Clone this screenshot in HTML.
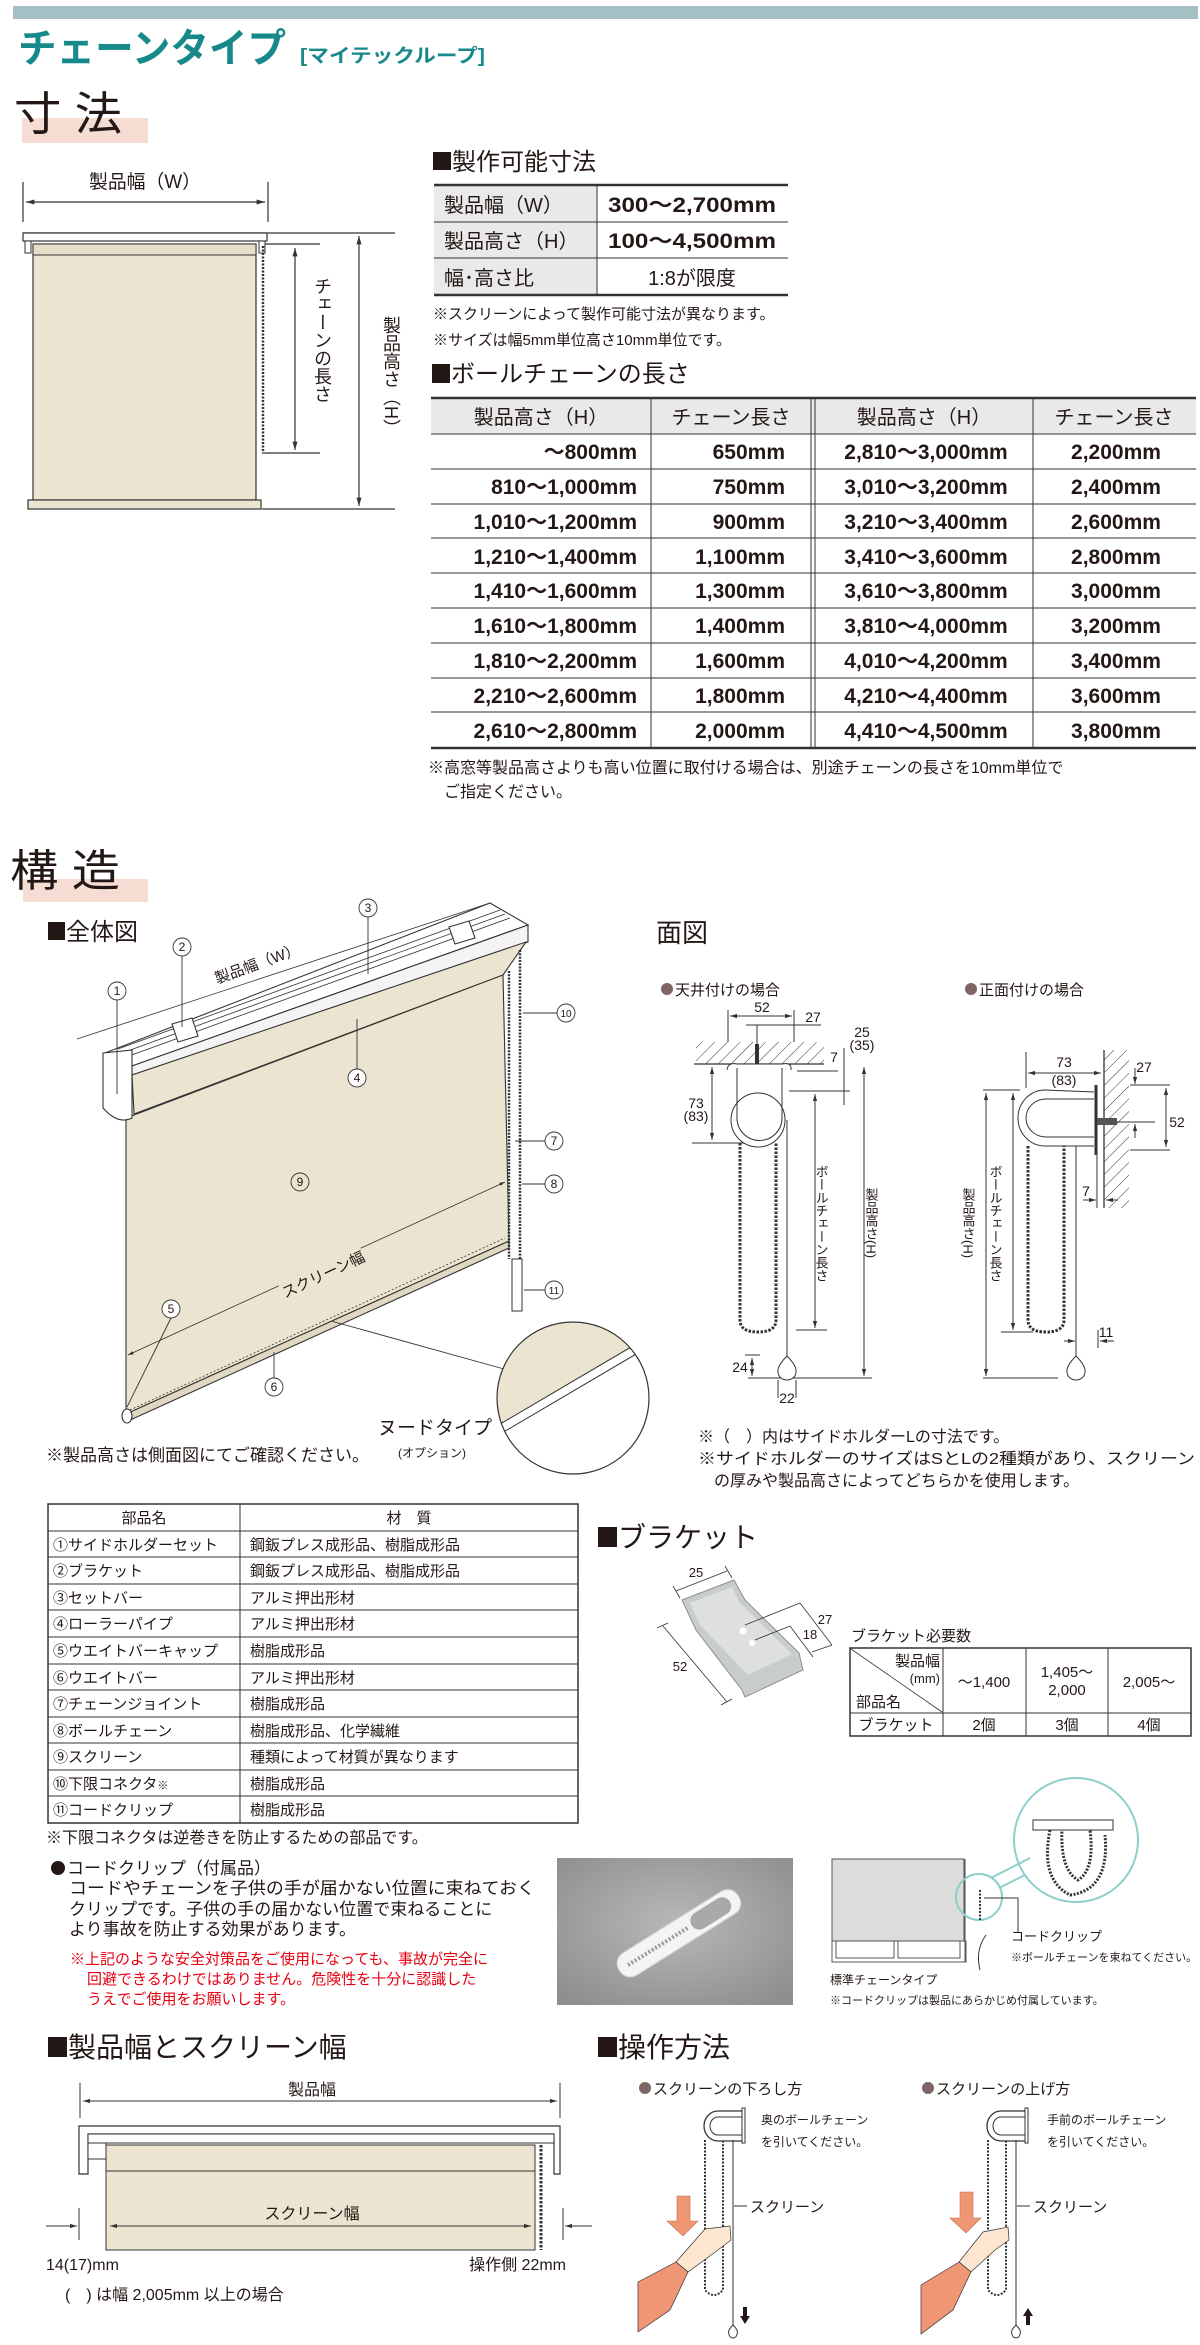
<!DOCTYPE html>
<html><head><meta charset="utf-8"><style>
html,body{margin:0;padding:0;background:#fff;}
svg{display:block;}
text{font-family:"Liberation Sans","Noto Sans CJK JP",sans-serif;fill:#231815;}
.v{writing-mode:vertical-rl;}
</style></head><body>
<svg width="1200" height="2345" viewBox="0 0 1200 2345" xmlns="http://www.w3.org/2000/svg">
<defs>
<radialGradient id="ph" cx="0.5" cy="0.45" r="0.7"><stop offset="0" stop-color="#b9b8b6"/><stop offset="1" stop-color="#8e8d8b"/></radialGradient>
<pattern id="hatch" width="9" height="9" patternUnits="userSpaceOnUse" patternTransform="rotate(45)"><line x1="0" y1="0" x2="0" y2="9" stroke="#333" stroke-width="1"/></pattern>
<marker id="ah" viewBox="0 0 10 10" refX="10" refY="5" markerWidth="7" markerHeight="7" orient="auto-start-reverse"><path d="M0,2 L10,5 L0,8 z" fill="#333"/></marker>
</defs>

<!-- top bar and title -->
<rect x="13" y="6" width="1185" height="13" fill="#a5c0c4"/>
<text x="18" y="62" font-size="40" font-weight="bold" fill="#17898b" style="fill:#17898b" textLength="268" lengthAdjust="spacingAndGlyphs">チェーンタイプ</text>
<text x="300" y="62" font-size="19" font-weight="bold" style="fill:#17898b" textLength="185" lengthAdjust="spacingAndGlyphs">[マイテックループ]</text>

<!-- 寸法 -->
<rect x="22" y="118" width="126" height="25" fill="#f6ddd4"/>
<text x="14" y="130" font-size="46" textLength="108" lengthAdjust="spacingAndGlyphs">寸 法</text>

<!-- left dimension diagram -->
<g stroke="#333" stroke-width="1.2" fill="none">
<line x1="23" y1="182" x2="23" y2="222"/><line x1="268" y1="182" x2="268" y2="222"/>
<line x1="26" y1="202" x2="265" y2="202" marker-start="url(#ah)" marker-end="url(#ah)"/>
<line x1="23" y1="233" x2="395" y2="233"/>
<line x1="262" y1="244" x2="320" y2="244"/>
<line x1="262" y1="453" x2="320" y2="453"/>
<line x1="262" y1="509" x2="395" y2="509"/>
<line x1="295" y1="248" x2="295" y2="450" marker-start="url(#ah)" marker-end="url(#ah)"/>
<line x1="359" y1="236" x2="359" y2="506" marker-start="url(#ah)" marker-end="url(#ah)"/>
</g>
<rect x="23" y="233" width="244" height="8" fill="#fff" stroke="#333" stroke-width="1.2"/>
<rect x="25" y="241" width="6" height="12" fill="#fff" stroke="#333"/>
<rect x="259" y="241" width="6" height="12" fill="#fff" stroke="#333"/>
<rect x="33" y="244" width="223" height="256" fill="#ebe4d0" stroke="#333" stroke-width="1.2"/>
<rect x="33" y="244" width="223" height="11" fill="#e6dec8" stroke="#333"/>
<rect x="28" y="500" width="233" height="9" fill="#ebe4d0" stroke="#333" stroke-width="1.2"/>
<line x1="263" y1="246" x2="263" y2="453" stroke="#333" stroke-width="2.5" stroke-dasharray="2 1.5"/>
<text x="145" y="188" font-size="19" text-anchor="middle" textLength="112" lengthAdjust="spacingAndGlyphs">製品幅（W）</text>
<text x="322" y="277" font-size="18" class="v">チェーンの長さ</text>
<text x="391" y="316" font-size="18" class="v">製品高さ（H）</text>

<!-- 製作可能寸法 -->
<rect x="433" y="152" width="18" height="18" fill="#231815"/>
<text x="452" y="170" font-size="24">製作可能寸法</text>
<rect x="434" y="185" width="163" height="110" fill="#e9e9e9"/>
<g stroke="#333">
<line x1="434" y1="185" x2="788" y2="185" stroke-width="2.5"/>
<line x1="434" y1="222" x2="788" y2="222" stroke-width="1"/>
<line x1="434" y1="258" x2="788" y2="258" stroke-width="1"/>
<line x1="434" y1="295" x2="788" y2="295" stroke-width="2.5"/>
<line x1="597" y1="185" x2="597" y2="295" stroke-width="1"/>
</g>
<text x="444" y="212" font-size="20">製品幅（W）</text>
<text x="444" y="248" font-size="20">製品高さ（H）</text>
<text x="444" y="285" font-size="20">幅･高さ比</text>
<text x="608" y="212" font-size="21" font-weight="bold" textLength="168" lengthAdjust="spacingAndGlyphs">300～2,700mm</text>
<text x="608" y="248" font-size="21" font-weight="bold" textLength="168" lengthAdjust="spacingAndGlyphs">100～4,500mm</text>
<text x="692" y="285" font-size="20" text-anchor="middle">1:8が限度</text>
<text x="433" y="319" font-size="15">※スクリーンによって製作可能寸法が異なります。</text>
<text x="433" y="345" font-size="15">※サイズは幅5mm単位高さ10mm単位です。</text>

<!-- ボールチェーンの長さ -->
<rect x="432" y="364" width="18" height="19" fill="#231815"/>
<text x="451" y="382" font-size="24">ボールチェーンの長さ</text>
<rect x="431" y="398" width="765" height="36" fill="#e9e9e9"/>
<g stroke="#333" stroke-width="1">
<line x1="431" y1="398" x2="1196" y2="398" stroke-width="2.5"/>
<line x1="431" y1="434" x2="1196" y2="434"/>
<line x1="431" y1="469" x2="1196" y2="469"/>
<line x1="431" y1="504" x2="1196" y2="504"/>
<line x1="431" y1="538" x2="1196" y2="538"/>
<line x1="431" y1="573" x2="1196" y2="573"/>
<line x1="431" y1="608" x2="1196" y2="608"/>
<line x1="431" y1="643" x2="1196" y2="643"/>
<line x1="431" y1="678" x2="1196" y2="678"/>
<line x1="431" y1="712" x2="1196" y2="712"/>
<line x1="431" y1="748" x2="1196" y2="748" stroke-width="2.5"/>
<line x1="651" y1="398" x2="651" y2="748"/>
<line x1="811" y1="398" x2="811" y2="748"/>
<line x1="815" y1="398" x2="815" y2="748"/>
<line x1="1033" y1="398" x2="1033" y2="748"/>
</g>
<g font-size="20" text-anchor="middle">
<text x="541" y="424">製品高さ（H）</text><text x="731" y="424">チェーン長さ</text>
<text x="924" y="424">製品高さ（H）</text><text x="1114" y="424">チェーン長さ</text>
</g>
<g font-size="21" font-weight="bold">
<g text-anchor="end">
<text x="637" y="459">～800mm</text><text x="637" y="494">810～1,000mm</text><text x="637" y="529">1,010～1,200mm</text>
<text x="637" y="564">1,210～1,400mm</text><text x="637" y="598">1,410～1,600mm</text><text x="637" y="633">1,610～1,800mm</text>
<text x="637" y="668">1,810～2,200mm</text><text x="637" y="703">2,210～2,600mm</text><text x="637" y="738">2,610～2,800mm</text>
<text x="785" y="459">650mm</text><text x="785" y="494">750mm</text><text x="785" y="529">900mm</text>
<text x="785" y="564">1,100mm</text><text x="785" y="598">1,300mm</text><text x="785" y="633">1,400mm</text>
<text x="785" y="668">1,600mm</text><text x="785" y="703">1,800mm</text><text x="785" y="738">2,000mm</text>
</g>
<g text-anchor="middle">
<text x="926" y="459">2,810～3,000mm</text><text x="926" y="494">3,010～3,200mm</text><text x="926" y="529">3,210～3,400mm</text>
<text x="926" y="564">3,410～3,600mm</text><text x="926" y="598">3,610～3,800mm</text><text x="926" y="633">3,810～4,000mm</text>
<text x="926" y="668">4,010～4,200mm</text><text x="926" y="703">4,210～4,400mm</text><text x="926" y="738">4,410～4,500mm</text>
<text x="1116" y="459">2,200mm</text><text x="1116" y="494">2,400mm</text><text x="1116" y="529">2,600mm</text>
<text x="1116" y="564">2,800mm</text><text x="1116" y="598">3,000mm</text><text x="1116" y="633">3,200mm</text>
<text x="1116" y="668">3,400mm</text><text x="1116" y="703">3,600mm</text><text x="1116" y="738">3,800mm</text>
</g></g>
<text x="428" y="773" font-size="16">※高窓等製品高さよりも高い位置に取付ける場合は、別途チェーンの長さを10mm単位で</text>
<text x="444" y="797" font-size="16">ご指定ください。</text>

<!-- 構造 -->
<rect x="23" y="879" width="125" height="23" fill="#f6ddd4"/>
<text x="10" y="886" font-size="44" textLength="110" lengthAdjust="spacingAndGlyphs">構 造</text>
<rect x="48" y="922" width="17" height="18" fill="#231815"/>
<text x="66" y="940" font-size="24">全体図</text>
<text x="656" y="942" font-size="26">面図</text>

<!-- 3D drawing -->
<g stroke="#333" stroke-width="1.1">
<polygon points="105,1053 490,903 528,925 132,1066" fill="#fff"/>
<polygon points="132,1066 528,925 528,942 132,1075" fill="#f4f4f4"/>
<line x1="118" y1="1049" x2="500" y2="910" stroke-width="0.8"/>
<line x1="122" y1="1053" x2="505" y2="914" stroke-width="0.8"/>
<line x1="126" y1="1057" x2="510" y2="918" stroke-width="0.8"/>
<polygon points="132,1075 526,942 503,975 134,1114" fill="#ebe4d0"/>
<polygon points="126,1118 503,975 509,1241 126,1414" fill="#ebe4d0"/>
<polygon points="126,1414 509,1241 509,1248 128,1421" fill="#e0d8c2"/>
<line x1="130" y1="1410" x2="505" y2="1238" stroke-dasharray="2 2" stroke-width="0.8"/>
<path d="M103,1053 L132,1050 L132,1118 Q118,1125 103,1108 Z" fill="#fff"/>
<ellipse cx="127" cy="1416" rx="5" ry="7" fill="#fff"/>
<polygon points="172,1024 192,1018 198,1036 178,1042" fill="#fff"/>
<polygon points="449,927 469,921 475,938 455,944" fill="#fff"/>
<line x1="77" y1="1039" x2="490" y2="903" stroke-width="0.8"/>
<line x1="128" y1="1355" x2="505" y2="1182" stroke-width="0.8" marker-start="url(#ah)" marker-end="url(#ah)"/>
</g>
<line x1="509" y1="971" x2="509" y2="1259" stroke="#333" stroke-width="2.5" stroke-dasharray="2 1.3"/>
<line x1="520" y1="950" x2="520" y2="1259" stroke="#333" stroke-width="2.5" stroke-dasharray="2 1.3"/>
<rect x="512" y="1259" width="10" height="52" fill="#fff" stroke="#333"/>
<rect x="207" y="952" width="100" height="22" fill="#fff" transform="rotate(-20 257 963)"/>
<text x="257" y="969" font-size="15" text-anchor="middle" transform="rotate(-20 257 963)">製品幅（W）</text>
<rect x="278" y="1263" width="90" height="22" fill="#ebe4d0" transform="rotate(-25 323 1274)"/>
<text x="323" y="1280" font-size="15" text-anchor="middle" transform="rotate(-25 323 1274)">スクリーン幅</text>
<g stroke="#333" stroke-width="0.9" fill="none">
<line x1="117" y1="1000" x2="117" y2="1094"/><line x1="182" y1="956" x2="182" y2="1027"/>
<line x1="368" y1="917" x2="368" y2="974"/><line x1="357" y1="1069" x2="357" y2="1019"/>
<line x1="171" y1="1318" x2="127" y2="1407"/><line x1="274" y1="1378" x2="274" y2="1352"/>
<line x1="545" y1="1141" x2="515" y2="1141"/><line x1="545" y1="1184" x2="522" y2="1184"/>
<line x1="557" y1="1013" x2="523" y2="1013"/><line x1="545" y1="1290" x2="524" y2="1290"/>
<line x1="331" y1="1321" x2="504" y2="1369"/>
</g>
<g font-size="12" text-anchor="middle">
<g fill="#fff" stroke="#333" stroke-width="0.9">
<circle cx="117" cy="991" r="9"/><circle cx="182" cy="947" r="9"/><circle cx="368" cy="908" r="9"/><circle cx="357" cy="1078" r="9"/>
<circle cx="171" cy="1309" r="9"/><circle cx="274" cy="1387" r="9"/><circle cx="554" cy="1141" r="9"/><circle cx="554" cy="1184" r="9"/>
<circle cx="300" cy="1182" r="9" fill="none"/><circle cx="566" cy="1013" r="9"/><circle cx="554" cy="1290" r="9"/>
</g>
<text x="117" y="995">1</text><text x="182" y="951">2</text><text x="368" y="912">3</text><text x="357" y="1082">4</text>
<text x="171" y="1313">5</text><text x="274" y="1391">6</text><text x="554" y="1145">7</text><text x="554" y="1188">8</text>
<text x="300" y="1186">9</text><text x="566" y="1017" font-size="10">10</text><text x="554" y="1294" font-size="10">11</text>
</g>
<!-- magnifier -->
<clipPath id="mc"><circle cx="573" cy="1398" r="76"/></clipPath>
<g clip-path="url(#mc)">
<rect x="490" y="1315" width="170" height="170" fill="#fff"/>
<polygon points="490,1315 660,1315 660,1330 490,1430" fill="#ebe4d0"/>
<line x1="490" y1="1430" x2="660" y2="1330" stroke="#333"/>
<line x1="490" y1="1440" x2="660" y2="1340" stroke="#333"/>
</g>
<circle cx="573" cy="1398" r="76" fill="none" stroke="#333" stroke-width="1.2"/>
<text x="378" y="1434" font-size="19">ヌードタイプ</text>
<text x="398" y="1457" font-size="12">(オプション)</text>
<text x="46" y="1461" font-size="17">※製品高さは側面図にてご確認ください。</text>

<!-- 天井付け -->
<circle cx="667" cy="989" r="6" fill="#7f6664"/>
<text x="675" y="995" font-size="15">天井付けの場合</text>
<rect x="696" y="1042" width="128" height="22" fill="url(#hatch)"/>
<g stroke="#333" stroke-width="1" fill="none">
<line x1="694" y1="1064" x2="824" y2="1064" stroke-width="1.3"/>
<line x1="728" y1="1010" x2="728" y2="1042"/><line x1="794" y1="1010" x2="794" y2="1042"/>
<line x1="730" y1="1016" x2="792" y2="1016" marker-start="url(#ah)" marker-end="url(#ah)"/>
<line x1="746" y1="1025" x2="821" y2="1025"/>
<line x1="757" y1="1025" x2="757" y2="1060"/>
<path d="M727,1070 Q728,1062 737,1064 L782,1064 Q792,1062 791,1070" fill="#fff"/>
<path d="M737,1068 L737,1118 A22,22 0 0 0 782,1118 L782,1068" fill="#fff"/>
<circle cx="758" cy="1120" r="27"/>
<line x1="797" y1="1071" x2="838" y2="1071"/>
<line x1="789" y1="1091" x2="850" y2="1091"/>
<line x1="844" y1="1048" x2="844" y2="1105"/>
<line x1="692" y1="1143" x2="744" y2="1143"/>
<line x1="712" y1="1067" x2="712" y2="1140" marker-start="url(#ah)" marker-end="url(#ah)"/>
<line x1="815" y1="1094" x2="815" y2="1328" marker-start="url(#ah)" marker-end="url(#ah)"/>
<line x1="796" y1="1330" x2="827" y2="1330"/>
<line x1="864" y1="1067" x2="864" y2="1376" marker-start="url(#ah)" marker-end="url(#ah)"/>
<line x1="748" y1="1378" x2="872" y2="1378"/>
<line x1="787" y1="1120" x2="787" y2="1356"/>
<path d="M787,1356 Q797,1366 796,1372 A9,8 0 0 1 778,1372 Q777,1366 787,1356 Z" fill="#fff"/>
<line x1="745" y1="1355" x2="760" y2="1355"/>
<line x1="752" y1="1358" x2="752" y2="1376" marker-start="url(#ah)" marker-end="url(#ah)"/>
<line x1="778" y1="1380" x2="778" y2="1398"/><line x1="796" y1="1380" x2="796" y2="1398"/>
</g>
<line x1="757" y1="1044" x2="757" y2="1064" stroke="#333" stroke-width="4"/>
<path d="M740,1143 L740,1320 Q740,1332 758,1332 Q776,1332 776,1320 L776,1143" fill="none" stroke="#333" stroke-width="3" stroke-dasharray="2.5 1.5"/>
<g font-size="14">
<text x="762" y="1012" text-anchor="middle">52</text><text x="813" y="1022" text-anchor="middle">27</text>
<text x="862" y="1037" text-anchor="middle">25</text><text x="862" y="1050" text-anchor="middle">(35)</text>
<text x="834" y="1062" text-anchor="middle">7</text>
<text x="696" y="1108" text-anchor="middle">73</text><text x="696" y="1121" text-anchor="middle">(83)</text>
<text x="740" y="1372" text-anchor="middle">24</text><text x="787" y="1403" text-anchor="middle">22</text>
<text x="821" y="1165" font-size="13" class="v">ボールチェーン長さ</text>
<text x="871" y="1188" font-size="13" class="v">製品高さ(H)</text>
</g>

<!-- 正面付け -->
<circle cx="971" cy="989" r="6" fill="#7f6664"/>
<text x="979" y="995" font-size="15">正面付けの場合</text>
<rect x="1104" y="1050" width="25" height="158" fill="url(#hatch)"/>
<g stroke="#333" stroke-width="1" fill="none">
<line x1="1104" y1="1050" x2="1104" y2="1208" stroke-width="1.3"/>
<path d="M1096,1085 L1096,1155" stroke-width="3"/>
<path d="M1094,1092 L1045,1090 A27,28 0 0 0 1045,1146 L1094,1146" fill="#fff"/>
<path d="M1094,1099 L1046,1099 A20,19 0 0 0 1046,1137 L1094,1137"/>
<line x1="1026" y1="1052" x2="1026" y2="1088"/>
<line x1="1028" y1="1073" x2="1101" y2="1073" marker-start="url(#ah)" marker-end="url(#ah)"/>
<line x1="1130" y1="1085" x2="1170" y2="1085"/><line x1="1130" y1="1150" x2="1170" y2="1150"/>
<line x1="1107" y1="1122" x2="1155" y2="1122"/>
<line x1="1166" y1="1088" x2="1166" y2="1147" marker-start="url(#ah)" marker-end="url(#ah)"/>
<line x1="1135" y1="1068" x2="1135" y2="1084" marker-end="url(#ah)"/>
<line x1="1135" y1="1138" x2="1135" y2="1124" marker-end="url(#ah)"/>
<line x1="983" y1="1090" x2="1020" y2="1090"/>
<line x1="986" y1="1093" x2="986" y2="1376" marker-start="url(#ah)" marker-end="url(#ah)"/>
<line x1="983" y1="1378" x2="1058" y2="1378"/>
<line x1="1013" y1="1093" x2="1013" y2="1330" marker-start="url(#ah)" marker-end="url(#ah)"/>
<line x1="1001" y1="1332" x2="1033" y2="1332"/>
<line x1="1076" y1="1146" x2="1076" y2="1356"/>
<path d="M1076,1356 Q1086,1366 1085,1372 A9,8 0 0 1 1067,1372 Q1066,1366 1076,1356 Z" fill="#fff"/>
<line x1="1097" y1="1155" x2="1097" y2="1208"/>
<line x1="1083" y1="1200" x2="1096" y2="1200" marker-end="url(#ah)"/>
<line x1="1118" y1="1200" x2="1106" y2="1200" marker-end="url(#ah)"/>
<line x1="1064" y1="1341" x2="1075" y2="1341" marker-end="url(#ah)"/>
<line x1="1098" y1="1330" x2="1098" y2="1348"/>
<line x1="1114" y1="1341" x2="1100" y2="1341" marker-end="url(#ah)"/>
</g>
<rect x="1097" y="1118" width="20" height="7" fill="#555"/>
<path d="M1028,1146 L1028,1320 Q1028,1332 1046,1332 Q1064,1332 1064,1320 L1064,1146" fill="none" stroke="#333" stroke-width="3" stroke-dasharray="2.5 1.5"/>
<g font-size="14">
<text x="1064" y="1067" text-anchor="middle">73</text><text x="1064" y="1085" text-anchor="middle">(83)</text>
<text x="1144" y="1072" text-anchor="middle">27</text><text x="1177" y="1127" text-anchor="middle">52</text>
<text x="1086" y="1196" text-anchor="middle">7</text><text x="1106" y="1337" text-anchor="middle">11</text>
<text x="968" y="1188" font-size="13" class="v">製品高さ(H)</text>
<text x="995" y="1165" font-size="13" class="v">ボールチェーン長さ</text>
</g>
<text x="698" y="1442" font-size="16">※（　）内はサイドホルダーLの寸法です。</text>
<text x="698" y="1464" font-size="16" textLength="497" lengthAdjust="spacingAndGlyphs">※サイドホルダーのサイズはSとLの2種類があり、スクリーン</text>
<text x="714" y="1486" font-size="16">の厚みや製品高さによってどちらかを使用します。</text>

<!-- parts table -->
<g stroke="#333" stroke-width="1" fill="none">
<rect x="48" y="1504" width="530" height="319" stroke-width="1.5"/>
<line x1="240" y1="1504" x2="240" y2="1823"/>
<line x1="48" y1="1531" x2="578" y2="1531"/><line x1="48" y1="1557" x2="578" y2="1557"/>
<line x1="48" y1="1584" x2="578" y2="1584"/><line x1="48" y1="1610" x2="578" y2="1610"/>
<line x1="48" y1="1637" x2="578" y2="1637"/><line x1="48" y1="1664" x2="578" y2="1664"/>
<line x1="48" y1="1690" x2="578" y2="1690"/><line x1="48" y1="1717" x2="578" y2="1717"/>
<line x1="48" y1="1743" x2="578" y2="1743"/><line x1="48" y1="1770" x2="578" y2="1770"/>
<line x1="48" y1="1796" x2="578" y2="1796"/>
</g>
<g font-size="15">
<text x="144" y="1523" text-anchor="middle">部品名</text><text x="409" y="1523" text-anchor="middle">材　質</text>
<text x="53" y="1550">①サイドホルダーセット</text><text x="250" y="1550">鋼鈑プレス成形品、樹脂成形品</text>
<text x="53" y="1576">②ブラケット</text><text x="250" y="1576">鋼鈑プレス成形品、樹脂成形品</text>
<text x="53" y="1603">③セットバー</text><text x="250" y="1603">アルミ押出形材</text>
<text x="53" y="1629">④ローラーパイプ</text><text x="250" y="1629">アルミ押出形材</text>
<text x="53" y="1656">⑤ウエイトバーキャップ</text><text x="250" y="1656">樹脂成形品</text>
<text x="53" y="1683">⑥ウエイトバー</text><text x="250" y="1683">アルミ押出形材</text>
<text x="53" y="1709">⑦チェーンジョイント</text><text x="250" y="1709">樹脂成形品</text>
<text x="53" y="1736">⑧ボールチェーン</text><text x="250" y="1736">樹脂成形品、化学繊維</text>
<text x="53" y="1762">⑨スクリーン</text><text x="250" y="1762">種類によって材質が異なります</text>
<text x="53" y="1789">⑩下限コネクタ<tspan font-size="11">※</tspan></text><text x="250" y="1789">樹脂成形品</text>
<text x="53" y="1815">⑪コードクリップ</text><text x="250" y="1815">樹脂成形品</text>
</g>
<text x="46" y="1843" font-size="16">※下限コネクタは逆巻きを防止するための部品です。</text>

<!-- bracket -->
<rect x="598" y="1527" width="19" height="20" fill="#231815"/>
<text x="618" y="1547" font-size="28">ブラケット</text>
<polygon points="682,1600 734,1580 745,1600 799,1653 803,1670 745,1697 742,1690 696,1630" fill="#c9cdc9" stroke="#8b908b"/>
<polygon points="690,1603 732,1587 740,1603 792,1654 748,1675 700,1625" fill="#dde0dd"/>
<circle cx="743" cy="1631" r="3.5" fill="#fff"/><circle cx="752" cy="1643" r="3" fill="#fff"/>
<g stroke="#333" stroke-width="0.8" fill="none">
<line x1="676" y1="1591" x2="727" y2="1571"/><line x1="673" y1="1586" x2="680" y2="1598"/><line x1="725" y1="1566" x2="732" y2="1578"/>
<line x1="663" y1="1626" x2="727" y2="1702"/><line x1="657" y1="1628" x2="668" y2="1623"/><line x1="721" y1="1705" x2="732" y2="1699"/>
<line x1="745" y1="1625" x2="800" y2="1603"/><line x1="800" y1="1603" x2="832" y2="1645"/><line x1="812" y1="1652" x2="832" y2="1645"/>
<line x1="755" y1="1640" x2="790" y2="1626"/><line x1="790" y1="1626" x2="813" y2="1657"/>
</g>
<g font-size="13"><text x="696" y="1577" text-anchor="middle">25</text><text x="825" y="1624" text-anchor="middle">27</text>
<text x="810" y="1639" text-anchor="middle">18</text><text x="680" y="1671" text-anchor="middle">52</text></g>
<text x="851" y="1641" font-size="15">ブラケット必要数</text>
<g stroke="#333" fill="none">
<rect x="850" y="1648" width="341" height="88" stroke-width="1.5"/>
<line x1="850" y1="1713" x2="1191" y2="1713"/>
<line x1="943" y1="1648" x2="943" y2="1736"/><line x1="1026" y1="1648" x2="1026" y2="1736"/><line x1="1108" y1="1648" x2="1108" y2="1736"/>
<line x1="851" y1="1649" x2="942" y2="1712" stroke-width="0.8"/>
</g>
<g font-size="15">
<text x="940" y="1666" text-anchor="end">製品幅</text><text x="940" y="1683" text-anchor="end" font-size="13">(mm)</text>
<text x="856" y="1707">部品名</text>
<text x="984" y="1687" text-anchor="middle">～1,400</text>
<text x="1067" y="1677" text-anchor="middle">1,405～</text><text x="1067" y="1695" text-anchor="middle">2,000</text>
<text x="1149" y="1687" text-anchor="middle">2,005～</text>
<text x="896" y="1730" text-anchor="middle">ブラケット</text>
<text x="984" y="1730" text-anchor="middle">2個</text><text x="1067" y="1730" text-anchor="middle">3個</text><text x="1149" y="1730" text-anchor="middle">4個</text>
</g>

<!-- cord clip -->
<circle cx="58" cy="1868" r="7" fill="#231815"/>
<g font-size="17">
<text x="67" y="1874">コードクリップ（付属品）</text>
<text x="69" y="1894" textLength="466" lengthAdjust="spacingAndGlyphs">コードやチェーンを子供の手が届かない位置に束ねておく</text>
<text x="69" y="1915">クリップです。子供の手の届かない位置で束ねることに</text>
<text x="69" y="1935">より事故を防止する効果があります。</text>
</g>
<g font-size="15" style="fill:#e60012">
<text x="70" y="1964" style="fill:#e60012">※上記のような安全対策品をご使用になっても、事故が完全に</text>
<text x="87" y="1984" style="fill:#e60012">回避できるわけではありません。危険性を十分に認識した</text>
<text x="87" y="2004" style="fill:#e60012">うえでご使用をお願いします。</text>
</g>
<rect x="557" y="1858" width="236" height="147" fill="url(#ph)"/>
<g transform="rotate(-32 680 1935)">
<rect x="610" y="1920" width="140" height="26" rx="12" fill="#f4f4f4" stroke="#d8d8d8"/>
<rect x="695" y="1924" width="45" height="18" rx="9" fill="#a9a9a8"/>
<line x1="620" y1="1933" x2="690" y2="1933" stroke="#999" stroke-width="4" stroke-dasharray="2 2"/>
</g>
<rect x="832" y="1859" width="132" height="82" fill="#dcdcdc" stroke="#555"/>
<rect x="832" y="1941" width="134" height="21" fill="#fff" stroke="#555"/>
<rect x="836" y="1941" width="58" height="17" fill="none" stroke="#555"/><rect x="898" y="1941" width="62" height="17" fill="none" stroke="#555"/>
<line x1="965" y1="1859" x2="965" y2="1962" stroke="#555"/>
<circle cx="979" cy="1897" r="23" fill="none" stroke="#8ccfcb" stroke-width="2"/>
<circle cx="1076" cy="1840" r="62" fill="#fff" stroke="#8ccfcb" stroke-width="2"/>
<line x1="991" y1="1878" x2="1030" y2="1858" stroke="#8ccfcb" stroke-width="2"/>
<line x1="999" y1="1888" x2="1025" y2="1875" stroke="#8ccfcb" stroke-width="2"/>
<path d="M1050,1830 Q1040,1880 1070,1895 Q1110,1890 1105,1835" fill="none" stroke="#333" stroke-width="3" stroke-dasharray="2 1.5"/>
<path d="M1062,1828 Q1060,1870 1078,1880 Q1095,1870 1090,1830" fill="none" stroke="#333" stroke-width="3" stroke-dasharray="2 1.5"/>
<rect x="1033" y="1820" width="80" height="10" fill="#fff" stroke="#333"/>
<line x1="980" y1="1890" x2="980" y2="1920" stroke="#333" stroke-dasharray="2 1.5" stroke-width="2"/>
<polyline points="984,1898 1018,1898 1018,1932" fill="none" stroke="#333"/>
<path d="M980,1970 Q975,1950 986,1935" fill="none" stroke="#333"/>
<text x="1011" y="1941" font-size="13">コードクリップ</text>
<text x="1011" y="1961" font-size="11">※ボールチェーンを束ねてください。</text>
<text x="830" y="1984" font-size="12">標準チェーンタイプ</text>
<text x="830" y="2004" font-size="11">※コードクリップは製品にあらかじめ付属しています。</text>

<!-- 製品幅とスクリーン幅 -->
<rect x="48" y="2037" width="19" height="20" fill="#231815"/>
<text x="68" y="2057" font-size="28">製品幅とスクリーン幅</text>
<text x="312" y="2095" font-size="16" text-anchor="middle">製品幅</text>
<g stroke="#333" fill="none">
<line x1="80" y1="2083" x2="80" y2="2118"/><line x1="560" y1="2083" x2="560" y2="2118"/>
<line x1="83" y1="2101" x2="557" y2="2101" marker-start="url(#ah)" marker-end="url(#ah)"/>
<path d="M79,2174 L79,2126 L560,2126 L560,2174 L554,2174 L554,2134 L88,2134 L88,2174 Z" fill="#fff" stroke-width="1.2"/>
<rect x="88" y="2134" width="466" height="9" fill="#fff"/>
<rect x="88" y="2143" width="18" height="16" fill="#fff"/>
<rect x="106" y="2145" width="429" height="105" fill="#ebe4d0"/>
<line x1="106" y1="2171" x2="535" y2="2171"/>
<line x1="110" y1="2226" x2="531" y2="2226" marker-start="url(#ah)" marker-end="url(#ah)"/>
<line x1="79" y1="2208" x2="79" y2="2240"/><line x1="563" y1="2208" x2="563" y2="2240"/>
<line x1="46" y1="2226" x2="77" y2="2226" marker-end="url(#ah)"/>
<line x1="592" y1="2226" x2="565" y2="2226" marker-end="url(#ah)"/>
</g>
<line x1="541" y1="2145" x2="541" y2="2250" stroke="#333" stroke-width="3" stroke-dasharray="2.5 1.5"/>
<text x="312" y="2219" font-size="16" text-anchor="middle">スクリーン幅</text>
<text x="46" y="2270" font-size="16">14(17)mm</text>
<text x="566" y="2270" font-size="16" text-anchor="end">操作側 22mm</text>
<text x="65" y="2300" font-size="16">(　) は幅 2,005mm 以上の場合</text>

<!-- 操作方法 -->
<rect x="598" y="2037" width="19" height="20" fill="#231815"/>
<text x="618" y="2057" font-size="28">操作方法</text>
<g id="op1">
<circle cx="645" cy="2088" r="6" fill="#7f6664"/>
<text x="653" y="2094" font-size="15">スクリーンの下ろし方</text>
<path d="M742,2111 L718,2111 A14,15 0 0 0 718,2141 L742,2141" fill="#fff" stroke="#333" stroke-width="1.3"/>
<path d="M742,2117 L718,2117 A8,9 0 0 0 718,2135 L742,2135" fill="none" stroke="#333"/>
<rect x="742" y="2108" width="3" height="35" fill="#fff" stroke="#333"/>
<path d="M705,2140 L705,2290 Q714,2300 723,2290 L723,2140" fill="none" stroke="#333" stroke-width="2" stroke-dasharray="2 1.5"/>
<line x1="733" y1="2140" x2="733" y2="2325" stroke="#333"/>
<path d="M733,2325 Q739,2331 737,2334 A4,4 0 0 1 729,2334 Q727,2331 733,2325Z" fill="#fff" stroke="#333"/>
<line x1="734" y1="2206" x2="747" y2="2206" stroke="#333"/>
<text x="750" y="2212" font-size="15">スクリーン</text>
<text x="761" y="2124" font-size="12">奥のボールチェーン</text>
<text x="761" y="2146" font-size="12">を引いてください。</text>
<polygon points="677,2196 690,2196 690,2221 698,2221 683,2236 667,2221 677,2221" fill="#ef9675" stroke="#c86a4b" stroke-width="0.6"/>
<polygon points="676,2262 705,2229 730,2226 731,2240 718,2250 688,2272" fill="#fde6cf" stroke="#333" stroke-width="0.7"/>
<polygon points="638,2282 676,2262 688,2272 670,2310 638,2332" fill="#ef9675" stroke="#333" stroke-width="0.7"/>
<polygon points="743,2307 747,2307 747,2316 750,2316 745,2324 740,2316 743,2316" fill="#231815"/>
</g>
<g transform="translate(283 0)">
<circle cx="645" cy="2088" r="6" fill="#7f6664"/>
<text x="653" y="2094" font-size="15">スクリーンの上げ方</text>
<path d="M742,2111 L718,2111 A14,15 0 0 0 718,2141 L742,2141" fill="#fff" stroke="#333" stroke-width="1.3"/>
<path d="M742,2117 L718,2117 A8,9 0 0 0 718,2135 L742,2135" fill="none" stroke="#333"/>
<rect x="742" y="2108" width="3" height="35" fill="#fff" stroke="#333"/>
<path d="M705,2140 L705,2290 Q714,2300 723,2290 L723,2140" fill="none" stroke="#333" stroke-width="2" stroke-dasharray="2 1.5"/>
<line x1="733" y1="2140" x2="733" y2="2325" stroke="#333"/>
<path d="M733,2325 Q739,2331 737,2334 A4,4 0 0 1 729,2334 Q727,2331 733,2325Z" fill="#fff" stroke="#333"/>
<line x1="734" y1="2206" x2="747" y2="2206" stroke="#333"/>
<text x="750" y="2212" font-size="15">スクリーン</text>
<text x="764" y="2124" font-size="12">手前のボールチェーン</text>
<text x="764" y="2146" font-size="12">を引いてください。</text>
<polygon points="677,2192 690,2192 690,2218 698,2218 683,2233 667,2218 677,2218" fill="#ef9675" stroke="#c86a4b" stroke-width="0.6"/>
<polygon points="676,2262 700,2232 725,2227 726,2240 712,2250 688,2272" fill="#fde6cf" stroke="#333" stroke-width="0.7"/>
<polygon points="638,2285 676,2262 688,2272 670,2310 638,2334" fill="#ef9675" stroke="#333" stroke-width="0.7"/>
<polygon points="743,2325 747,2325 747,2316 750,2316 745,2308 740,2316 743,2316" fill="#231815"/>
</g>
</svg>
</body></html>
